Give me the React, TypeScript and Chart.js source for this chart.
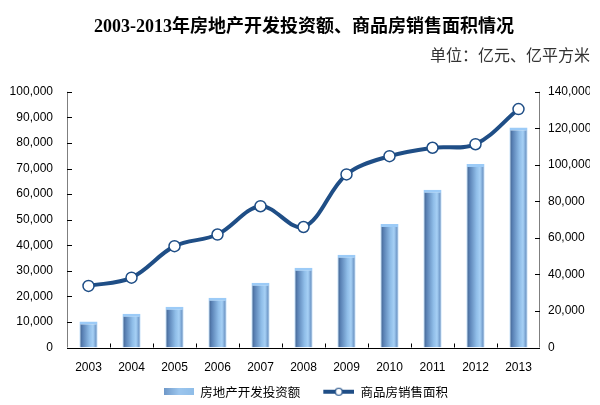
import React, { useEffect, useRef } from "react";
import { Chart, registerables } from "chart.js";

Chart.register(...registerables);

const years = ["2003", "2004", "2005", "2006", "2007", "2008", "2009", "2010", "2011", "2012", "2013"];
const investment = [10154, 13158, 15909, 19423, 25289, 31203, 36242, 48259, 61740, 71804, 86013];
const salesArea = [33719, 38232, 55486, 61857, 77355, 65970, 94755, 104765, 109367, 111304, 130551];
const leftTicks = [0, 10000, 20000, 30000, 40000, 50000, 60000, 70000, 80000, 90000, 100000];
const rightTicks = [0, 20000, 40000, 60000, 80000, 100000, 120000, 140000];

const LINE_COLOR = "#1f4e86";
const BAR_BORDER = "#9ccbf7";

function barGradient(ctx: CanvasRenderingContext2D, x0: number, x1: number) {
  const g = ctx.createLinearGradient(x0, 0, x1, 0);
  g.addColorStop(0, "#3f5f8a");
  g.addColorStop(0.18, "#5a82b5");
  g.addColorStop(0.55, "#8fbde8");
  g.addColorStop(0.75, "#a6d0f5");
  g.addColorStop(0.92, "#6f98c8");
  g.addColorStop(1, "#4a6f9e");
  return g;
}

const SW = 52;

function makeBarSwatch() {
  const c = document.createElement("canvas");
  c.width = SW;
  c.height = 7;
  const ctx = c.getContext("2d")!;
  const g = ctx.createLinearGradient(SW - 30, 0, SW, 0);
  g.addColorStop(0, "#6f98c8");
  g.addColorStop(0.5, "#9cc6ee");
  g.addColorStop(1, "#8fbde8");
  ctx.fillStyle = g;
  ctx.fillRect(SW - 30, 0, 30, 7);
  return c;
}

function makeLineSwatch() {
  const c = document.createElement("canvas");
  c.width = SW;
  c.height = 10;
  const ctx = c.getContext("2d")!;
  ctx.strokeStyle = LINE_COLOR;
  ctx.lineWidth = 4;
  ctx.beginPath();
  ctx.moveTo(SW - 31, 5);
  ctx.lineTo(SW, 5);
  ctx.stroke();
  ctx.beginPath();
  ctx.arc(SW - 15.5, 5, 3.5, 0, Math.PI * 2);
  ctx.fillStyle = "#ffffff";
  ctx.fill();
  ctx.lineWidth = 1.2;
  ctx.stroke();
  return c;
}

const barShadePlugin = {
  id: "barShade",
  afterLayout(chart: any) {
    if (chart.titleBlock) {
      chart.titleBlock.left = 8;
      chart.titleBlock.right = 600;
    }
  },
  beforeDatasetsDraw(chart: any) {
    const meta = chart.getDatasetMeta(0);
    const ctx = chart.ctx;
    meta.data.forEach((el: any) => {
      const { x, width } = el.getProps(["x", "width"], true);
      el.options.backgroundColor = barGradient(ctx, x - width / 2, x + width / 2);
    });
  },
};

const axisPlugin = {
  id: "axisMarks",
  afterDatasetsDraw(chart: any) {
    const { ctx, chartArea } = chart;
    const xs = chart.scales.x;
    const yl = chart.scales.y;
    const yr = chart.scales.y1;
    ctx.save();
    ctx.lineWidth = 1;
    ctx.strokeStyle = "#7f7f7f";
    ctx.beginPath();
    ctx.moveTo(chartArea.left + 0.5, chartArea.top);
    ctx.lineTo(chartArea.left + 0.5, chartArea.bottom);
    ctx.stroke();
    ctx.strokeStyle = "#000";
    yl.ticks.forEach((_t: any, i: number) => {
      const y = Math.round(yl.getPixelForTick(i)) + 0.5;
      ctx.beginPath();
      ctx.moveTo(chartArea.left, y);
      ctx.lineTo(chartArea.left + 5, y);
      ctx.stroke();
    });
    ctx.strokeStyle = "#7f7f7f";
    ctx.beginPath();
    ctx.moveTo(chartArea.right - 0.5, chartArea.top);
    ctx.lineTo(chartArea.right - 0.5, chartArea.bottom);
    ctx.stroke();
    ctx.strokeStyle = "#000";
    yr.ticks.forEach((_t: any, i: number) => {
      const y = Math.round(yr.getPixelForTick(i)) + 0.5;
      ctx.beginPath();
      ctx.moveTo(chartArea.right - 5, y);
      ctx.lineTo(chartArea.right, y);
      ctx.stroke();
    });
    ctx.strokeStyle = "#000";
    ctx.beginPath();
    ctx.moveTo(chartArea.left, Math.round(chartArea.bottom) + 0.5);
    ctx.lineTo(chartArea.right, Math.round(chartArea.bottom) + 0.5);
    ctx.stroke();
    const n = years.length;
    const step = (chartArea.right - chartArea.left) / n;
    for (let i = 1; i < n; i++) {
      const x = Math.round(xs.getPixelForValue(i) - step / 2) + 0.5;
      ctx.beginPath();
      ctx.moveTo(x, chartArea.bottom);
      ctx.lineTo(x, chartArea.bottom - 4);
      ctx.stroke();
    }
    ctx.restore();
  },
};

export default function App() {
  const ref = useRef<HTMLCanvasElement | null>(null);

  useEffect(() => {
    document.body.style.margin = "0";
    const canvas = ref.current!;
    const barSwatch = makeBarSwatch();
    const lineSwatch = makeLineSwatch();
    const tickFont = { family: "'Liberation Sans', Arial, sans-serif", size: 12 };
    const chart = new Chart(canvas, {
      type: "bar",
      data: {
        labels: years,
        datasets: [
          {
            type: "bar",
            label: "房地产开发投资额",
            data: investment,
            yAxisID: "y",
            backgroundColor: () => "#8fbde8",
            borderColor: BAR_BORDER,
            borderWidth: { top: 3, left: 1, right: 1, bottom: 0 },
            borderSkipped: "bottom",
            categoryPercentage: 1,
            barPercentage: 0.42,
            order: 1,
          } as any,
          {
            type: "line",
            label: "商品房销售面积",
            data: salesArea,
            yAxisID: "y1",
            borderColor: LINE_COLOR,
            borderWidth: 4,
            tension: 0.35,
            pointRadius: 5.5,
            pointBorderWidth: 1.5,
            pointBackgroundColor: "#ffffff",
            pointBorderColor: LINE_COLOR,
            order: 0,
          } as any,
        ],
      },
      options: {
        animation: false,
        responsive: false,
        maintainAspectRatio: false,
        layout: { padding: { left: 0, right: 10, top: 0, bottom: -3 } },
        plugins: {
          title: {
            display: true,
            text: "2003-2013年房地产开发投资额、商品房销售面积情况",
            color: "#000",
            font: { family: "'Liberation Serif', 'Noto Sans CJK SC', serif", size: 18, weight: "bold" },
            padding: { top: 17, bottom: 7 },
          },
          subtitle: {
            display: true,
            text: "单位：亿元、亿平方米",
            align: "end",
            color: "#333",
            font: { family: "'Noto Sans CJK SC', sans-serif", size: 16, weight: "normal" },
            padding: { top: 0, bottom: 27 },
          },
          legend: {
            display: true,
            position: "bottom",
            labels: {
              usePointStyle: true,
              pointStyleWidth: SW,
              color: "#000",
              padding: 2,
              font: { family: "'Noto Sans CJK SC', sans-serif", size: 12.5 },
              sort: (a: any, b: any) => a.datasetIndex - b.datasetIndex,
              generateLabels: (ch: any) => {
                const items = Chart.defaults.plugins.legend.labels.generateLabels(ch);
                return items.map((it: any) => ({
                  ...it,
                  pointStyle: it.datasetIndex === 0 ? barSwatch : lineSwatch,
                }));
              },
            },
          },
          tooltip: { enabled: false },
        },
        scales: {
          x: {
            grid: { display: false, drawTicks: false },
            border: { display: false },
            ticks: { color: "#000", font: tickFont, padding: 13, maxRotation: 0 },
            afterFit: (s: any) => {
              s.height = 36;
            },
          },
          y: {
            position: "left",
            min: 0,
            max: 100000,
            afterBuildTicks: (s: any) => {
              s.ticks = leftTicks.map((v) => ({ value: v }));
            },
            afterFit: (s: any) => {
              s.width = 67;
            },
            grid: { display: false, drawTicks: false },
            border: { display: false },
            ticks: {
              color: "#000",
              font: tickFont,
              padding: 14,
              callback: (v: any) => Number(v).toLocaleString("en-US"),
            },
          },
          y1: {
            position: "right",
            min: 0,
            max: 140000,
            afterBuildTicks: (s: any) => {
              s.ticks = rightTicks.map((v) => ({ value: v }));
            },
            afterFit: (s: any) => {
              s.width = 50;
            },
            grid: { display: false, drawTicks: false },
            border: { display: false },
            ticks: {
              color: "#000",
              font: tickFont,
              padding: 8,
              callback: (v: any) => Number(v).toLocaleString("en-US"),
            },
          },
        },
      },
      plugins: [barShadePlugin, axisPlugin],
    });
    return () => chart.destroy();
  }, []);

  return (
    <div style={{ position: "absolute", left: 0, top: 0, width: 600, height: 405, background: "#fff" }}>
      <canvas ref={ref} width={600} height={405} style={{ width: 600, height: 405 }} />
    </div>
  );
}
